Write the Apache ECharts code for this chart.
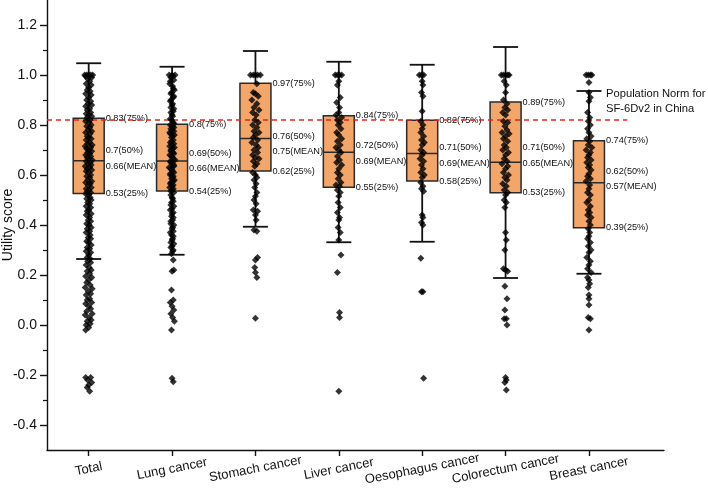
<!DOCTYPE html>
<html><head><meta charset="utf-8">
<script src="https://cdn.jsdelivr.net/npm/echarts@6/dist/echarts.min.js"></script>
<style>html,body{margin:0;padding:0;background:#fff}#c{width:708px;height:490px}</style>
</head><body><div id="c"></div>
<script>
const categories = ['Total','Lung cancer','Stomach cancer','Liver cancer','Oesophagus cancer','Colorectum cancer','Breast cancer'];
const q3 = [0.827, 0.803, 0.967, 0.837, 0.819, 0.892, 0.737];
const median = [0.697, 0.688, 0.756, 0.717, 0.709, 0.709, 0.616];
const mean = [0.657, 0.656, 0.746, 0.691, 0.686, 0.651, 0.569];
const q1 = [0.526, 0.536, 0.616, 0.551, 0.576, 0.529, 0.389];
const whiskerHigh = [1.047, 1.033, 1.096, 1.053, 1.041, 1.112, 0.936];
const whiskerLow = [0.264, 0.281, 0.393, 0.331, 0.333, 0.188, 0.205];
const populationNorm = 0.82;
const normLineEnd = 7.46;
const normLabel = 'Population Norm for\nSF-6Dv2 in China';
const yTicks = [-0.4,-0.2,0,0.2,0.4,0.6,0.8,1.0,1.2];
const yMinorTicks = [-0.3,-0.1,0.1,0.3,0.5,0.7,0.9,1.1];

// points: [horizontal jitter (category units), utility score]
const ptsTotal = [[-0.08,1.0],[-0.04,1.0],[0,1.0],[0.04,1.0],[0.08,1.0],[-0.06,0.995],[0.06,0.99],[-0.02,0.985],[0.02,0.975],[-0.05,0.965],[0.05,0.96],[0,0.95],[-0.03,0.94],[0.03,0.935],[-0.06,0.925],[0.05,0.92],[0,0.91],[-0.04,0.9],[0.04,0.895],[-0.01,0.885],[0.06,0.88],[-0.06,0.875],[0.02,0.865],[-0.03,0.86],[0.04,0.85],[-0.05,0.845],[0.0,0.84],[0.06,0.835],[-0.03,0.83],[0.03,0.82],[-0.06,0.815],[0.01,0.81],[0.05,0.8],[-0.04,0.795],[0.02,0.79],[-0.01,0.78],[0.06,0.775],[-0.06,0.77],[0.03,0.765],[-0.03,0.755],[0.0,0.75],[0.05,0.745],[-0.05,0.74],[0.02,0.73],[-0.02,0.725],[0.07,0.72],[-0.07,0.715],[0.04,0.71],[-0.04,0.705],[0.0,0.7],[0.06,0.695],[-0.02,0.69],[0.02,0.685],[-0.06,0.68],[0.04,0.675],[-0.03,0.67],[0.01,0.665],[0.07,0.66],[-0.05,0.655],[0.03,0.65],[-0.01,0.645],[0.05,0.64],[-0.07,0.635],[0.02,0.63],[-0.03,0.625],[0.06,0.62],[-0.05,0.615],[0.0,0.61],[0.04,0.6],[-0.04,0.595],[0.02,0.59],[-0.02,0.58],[0.06,0.575],[-0.06,0.57],[0.03,0.565],[-0.01,0.56],[0.05,0.55],[-0.05,0.545],[0.01,0.54],[-0.03,0.535],[0.04,0.53],[-0.06,0.525],[0.0,0.52],[0.03,0.51],[-0.04,0.505],[0.05,0.5],[-0.02,0.49],[0.02,0.485],[-0.05,0.475],[0.04,0.47],[0.0,0.46],[-0.03,0.455],[0.05,0.445],[-0.05,0.44],[0.02,0.43],[-0.01,0.42],[0.04,0.415],[-0.04,0.405],[0.01,0.4],[0.05,0.39],[-0.03,0.385],[0.02,0.375],[-0.05,0.37],[0.03,0.36],[-0.01,0.35],[0.04,0.345],[-0.04,0.335],[0.0,0.33],[0.05,0.32],[-0.03,0.31],[0.02,0.305],[-0.05,0.295],[0.04,0.29],[0.0,0.28],[-0.03,0.27],[0.03,0.265],[-0.02,0.255],[0.04,0.25],[-0.05,0.24],[0.01,0.23],[0.05,0.22],[-0.03,0.215],[0.02,0.205],[-0.06,0.195],[0.06,0.19],[0.0,0.18],[-0.04,0.17],[0.03,0.16],[-0.07,0.15],[0.07,0.145],[-0.01,0.135],[0.04,0.125],[-0.05,0.12],[0.02,0.105],[-0.03,0.1],[0.06,0.09],[-0.06,0.085],[0.0,0.075],[0.04,0.065],[-0.04,0.055],[0.07,0.045],[-0.07,0.04],[0.01,0.03],[0.05,0.02],[-0.03,0.015],[0.03,0.005],[-0.05,0.0],[0.0,-0.01],[-0.06,-0.02],[-0.06,-0.21],[0.04,-0.21],[-0.02,-0.22],[0.06,-0.23],[0.0,-0.24],[-0.03,-0.25],[0.02,-0.265]];
const ptsLung = [[-0.05,1.0],[0,1.0],[0.05,1.0],[-0.02,0.99],[0.03,0.98],[-0.04,0.965],[0.01,0.955],[0.04,0.94],[-0.02,0.925],[0.02,0.91],[-0.03,0.895],[0.0,0.88],[0.03,0.865],[-0.02,0.85],[0.01,0.835],[-0.01,0.82],[0.02,0.81],[-0.03,0.8],[0.03,0.79],[0.0,0.78],[-0.04,0.77],[0.04,0.76],[-0.01,0.75],[0.02,0.74],[-0.03,0.73],[0.0,0.72],[0.04,0.71],[-0.02,0.7],[0.02,0.69],[-0.04,0.68],[0.01,0.67],[0.05,0.66],[-0.02,0.65],[0.03,0.64],[-0.05,0.63],[0.0,0.62],[0.03,0.61],[-0.03,0.6],[0.01,0.59],[0.04,0.58],[-0.02,0.57],[0.02,0.56],[-0.04,0.55],[0.0,0.54],[0.03,0.53],[-0.02,0.52],[0.01,0.505],[-0.01,0.49],[0.03,0.475],[-0.03,0.46],[0.0,0.445],[0.02,0.43],[-0.02,0.415],[0.03,0.4],[0.0,0.385],[-0.03,0.37],[0.02,0.355],[0.0,0.34],[0.03,0.325],[-0.02,0.31],[0.01,0.295],[-0.01,0.285],
  [0.01,0.995],[-0.03,0.975],[0.02,0.945],[-0.01,0.93],[0.03,0.915],[-0.02,0.9],[0.01,0.885],[-0.02,0.87],[0.02,0.855],[0.0,0.84],[-0.03,0.825],[0.03,0.805],[0.01,0.795],[-0.02,0.785],[0.03,0.775],[-0.03,0.765],[0.01,0.755],[-0.01,0.735],[0.03,0.725],[-0.04,0.715],[0.01,0.705],[-0.02,0.695],[0.03,0.685],[-0.01,0.675],[0.02,0.665],[-0.03,0.655],[0.0,0.645],[0.03,0.635],[-0.02,0.625],[0.01,0.615],[-0.03,0.605],[0.02,0.595],[-0.01,0.585],[0.02,0.575],[-0.03,0.565],[0.0,0.555],[0.02,0.545],[-0.02,0.535],[0.0,0.51],[0.02,0.495],[-0.02,0.48],[0.0,0.465],[0.02,0.45],[-0.01,0.435],[0.01,0.42],[-0.02,0.405],[0.01,0.39],[0.02,0.375],[-0.01,0.36],[0.01,0.345],[-0.02,0.33],[0.0,0.315],[0.02,0.3],
  [0.02,0.26],[0.03,0.22],[0.0,0.215],[-0.01,0.14],[0.02,0.1],[-0.03,0.09],[0.0,0.075],[0.03,0.06],[-0.02,0.045],[0.01,0.03],[0.04,0.015],[-0.01,-0.02],[0.0,-0.213],[0.02,-0.227]];
const ptsStomach = [[-0.07,1.0],[-0.03,1.0],[0.0,1.0],[0.03,1.0],[0.07,1.0],[0.02,0.965],[-0.03,0.93],[0.0,0.925],[0.04,0.915],[-0.05,0.9],[0.02,0.885],[-0.02,0.87],[0.05,0.86],[-0.04,0.85],[0.01,0.84],[-0.01,0.82],[0.04,0.81],[-0.04,0.8],[0.02,0.79],[-0.02,0.775],[0.05,0.77],[0.0,0.76],[-0.03,0.75],[0.03,0.74],[-0.05,0.73],[0.01,0.72],[0.04,0.71],[-0.02,0.7],[0.03,0.69],[-0.04,0.68],[0.0,0.67],[0.05,0.665],[-0.03,0.655],[0.02,0.645],[-0.01,0.635],[-0.04,0.61],[0.0,0.6],[0.02,0.59],[-0.02,0.58],[0.01,0.565],[-0.01,0.55],[0.02,0.53],[0.0,0.515],[-0.02,0.5],[0.01,0.485],[-0.03,0.46],[0.03,0.455],[0.0,0.44],[0.01,0.42],[-0.02,0.38],[0.02,0.375],[0.03,0.27],[0.0,0.26],[-0.01,0.23],[0.0,0.21],[0.02,0.19],[0.0,0.027]];
const ptsLiver = [[-0.05,1.0],[-0.02,1.0],[0.01,1.0],[0.04,1.0],[0.0,0.975],[-0.02,0.96],[0.02,0.91],[-0.03,0.89],[0.01,0.87],[0.0,0.85],[-0.04,0.84],[0.04,0.83],[-0.02,0.82],[0.02,0.81],[-0.01,0.8],[0.03,0.785],[-0.03,0.77],[0.0,0.76],[0.04,0.745],[-0.02,0.735],[0.02,0.72],[-0.04,0.71],[0.0,0.7],[0.03,0.69],[-0.02,0.675],[0.01,0.66],[-0.03,0.65],[0.04,0.64],[0.0,0.625],[-0.02,0.61],[0.02,0.6],[-0.01,0.585],[0.03,0.57],[-0.04,0.56],[0.01,0.555],[-0.02,0.54],[0.02,0.53],[0.0,0.515],[-0.01,0.49],[0.02,0.47],[-0.02,0.45],[0.01,0.43],[0.0,0.42],[-0.01,0.39],[0.02,0.37],[0.0,0.34],[0.03,0.28],[-0.02,0.21],[0.01,0.05],[0.01,0.03],[0.0,-0.265]];
const ptsOesophagus = [[-0.04,1.0],[-0.01,1.0],[0.02,1.0],[0.0,0.975],[0.01,0.96],[-0.01,0.93],[0.01,0.915],[0.0,0.855],[-0.02,0.815],[0.01,0.8],[0.0,0.785],[-0.02,0.77],[0.02,0.755],[-0.01,0.74],[0.03,0.73],[0.0,0.72],[-0.02,0.7],[0.02,0.69],[0.0,0.68],[-0.03,0.665],[0.02,0.655],[-0.01,0.64],[0.01,0.625],[-0.02,0.61],[0.03,0.6],[0.0,0.59],[-0.02,0.57],[0.01,0.555],[-0.01,0.545],[0.02,0.535],[0.0,0.44],[0.01,0.43],[-0.01,0.41],[0.01,0.4],[-0.02,0.267],[-0.01,0.133],[0.01,0.133],[0.02,-0.213]];
const ptsColorectum = [[-0.06,1.0],[-0.03,1.0],[0.0,1.0],[0.03,1.0],[0.05,1.0],[-0.02,0.975],[0.01,0.96],[0.0,0.93],[-0.03,0.9],[0.02,0.885],[-0.01,0.87],[0.03,0.86],[-0.04,0.85],[0.0,0.84],[-0.03,0.815],[0.03,0.81],[-0.01,0.795],[0.02,0.78],[-0.05,0.77],[0.05,0.765],[0.0,0.755],[-0.03,0.745],[0.03,0.735],[-0.02,0.72],[0.01,0.71],[-0.04,0.7],[0.04,0.69],[0.0,0.68],[-0.02,0.665],[0.02,0.655],[-0.05,0.645],[0.03,0.635],[0.0,0.625],[-0.03,0.61],[0.04,0.6],[-0.01,0.59],[0.02,0.58],[-0.04,0.565],[0.01,0.555],[-0.02,0.54],[0.03,0.53],[0.0,0.52],[-0.02,0.5],[0.01,0.49],[-0.01,0.47],[0.0,0.37],[0.01,0.34],[-0.01,0.3],[-0.03,0.225],[0.0,0.22],[0.03,0.215],[-0.01,0.155],[0.02,0.105],[-0.01,0.06],[-0.02,0.025],[0.01,0.025],[0.02,0.0],[0.0,-0.21],[0.01,-0.22],[-0.01,-0.23],[0.01,-0.26]];
const ptsBreast = [[-0.04,1.0],[-0.01,1.0],[0.02,1.0],[0.04,1.0],[0.0,0.97],[0.0,0.93],[0.02,0.91],[0.0,0.895],[-0.02,0.85],[0.01,0.83],[-0.01,0.815],[0.02,0.8],[-0.02,0.785],[0.0,0.77],[0.03,0.755],[-0.03,0.745],[0.01,0.735],[-0.01,0.72],[0.04,0.71],[-0.04,0.7],[0.02,0.69],[0.0,0.68],[-0.02,0.67],[0.03,0.66],[-0.03,0.65],[0.01,0.64],[-0.01,0.63],[0.03,0.62],[0.0,0.605],[-0.02,0.595],[0.02,0.585],[-0.04,0.575],[0.01,0.56],[0.0,0.545],[-0.02,0.53],[0.02,0.52],[0.0,0.5],[-0.03,0.49],[0.02,0.475],[-0.01,0.46],[0.01,0.45],[-0.02,0.44],[0.03,0.43],[0.0,0.415],[0.02,0.4],[-0.01,0.385],[0.01,0.37],[0.0,0.355],[-0.02,0.345],[0.02,0.33],[-0.01,0.315],[0.03,0.3],[0.0,0.29],[-0.03,0.27],[0.02,0.255],[0.0,0.24],[-0.02,0.225],[0.03,0.21],[-0.02,0.19],[0.0,0.18],[0.01,0.165],[-0.01,0.15],[0.0,0.12],[0.0,0.105],[0.0,0.08],[-0.01,0.03],[0.02,0.025],[0.0,-0.02]];
const groupPoints = [ptsTotal, ptsLung, ptsStomach, ptsLiver, ptsOesophagus, ptsColorectum, ptsBreast];

const FONT = '"Liberation Sans", Arial, sans-serif';
const fmt = v => String(+v.toFixed(2));
const jitterScale = [0.6, 0.7, 0.85, 0.85, 0.85, 0.85, 0.85];

const boxData = categories.map((c, i) => [i + 1, q1[i], q3[i], mean[i], whiskerLow[i], whiskerHigh[i], median[i]]);
const scatterData = [];
groupPoints.forEach((pts, i) => pts.forEach(p => scatterData.push([i + 1 + p[0] * jitterScale[i], p[1]])));

function renderBox(params, api) {
  const x = api.value(0);
  const cx = api.coord([x, 0])[0];
  const Y = v => api.coord([x, v])[1];
  const yq1 = Y(api.value(1)), yq3 = Y(api.value(2)), ym = Y(api.value(3));
  const ylo = Y(api.value(4)), yhi = Y(api.value(5)), ymed = Y(api.value(6));
  const bw = 31, cw = 25, ink = '#111';
  const lx = cx + bw / 2 + 1.5;
  const txt = (t, y) => ({type: 'text', z2: 10, style: {text: t, x: lx, y: y, fill: '#111', fontSize: 9.2, fontFamily: FONT, align: 'left', verticalAlign: 'middle'}});
  return {type: 'group', children: [
    {type: 'line', shape: {x1: cx, y1: yhi, x2: cx, y2: yq3}, style: {stroke: ink, lineWidth: 1.8}},
    {type: 'line', shape: {x1: cx, y1: yq1, x2: cx, y2: ylo}, style: {stroke: ink, lineWidth: 1.8}},
    {type: 'line', shape: {x1: cx - cw / 2, y1: yhi, x2: cx + cw / 2, y2: yhi}, style: {stroke: ink, lineWidth: 1.8}},
    {type: 'line', shape: {x1: cx - cw / 2, y1: ylo, x2: cx + cw / 2, y2: ylo}, style: {stroke: ink, lineWidth: 1.8}},
    {type: 'rect', shape: {x: cx - bw / 2, y: yq3, width: bw, height: yq1 - yq3}, style: {fill: '#F3A66A', stroke: '#2a2a2a', lineWidth: 1.5}},
    {type: 'line', shape: {x1: cx - bw / 2, y1: ym, x2: cx + bw / 2, y2: ym}, style: {stroke: '#2a2a2a', lineWidth: 1.5}},
    txt(fmt(api.value(2)) + '(75%)', yq3),
    txt(fmt(api.value(6)) + '(50%)', ymed),
    txt(fmt(api.value(3)) + '(MEAN)', ymed + 15.5),
    txt(fmt(api.value(1)) + '(25%)', yq1)
  ]};
}

const chart = echarts.init(document.getElementById('c'), null, {renderer: 'canvas'});
chart.setOption({
  animation: false,
  backgroundColor: '#fff',
  grid: {left: 47, right: 44, top: 0, bottom: 40, containLabel: false, outerBoundsMode: 'none'},
  xAxis: {
    type: 'value', min: 0.5, max: 7.9,
    splitLine: {show: false},
    axisLine: {show: true, onZero: false, lineStyle: {color: '#111', width: 1.4}},
    axisTick: {show: true, length: 6, lineStyle: {color: '#111', width: 1.4}, customValues: [1,2,3,4,5,6,7]},
    axisLabel: {show: true, customValues: [1,2,3,4,5,6,7], formatter: v => categories[Math.round(v) - 1] || '',
      rotate: 11, align: 'center', verticalAlign: 'middle', margin: 19, fontSize: 13, fontFamily: FONT, color: '#111'}
  },
  yAxis: [{
    type: 'value', min: -0.5, max: 1.3, position: 'left',
    name: 'Utility score', nameLocation: 'middle', nameGap: 32, nameMoveOverlap: false,
    nameTextStyle: {fontSize: 14, fontFamily: FONT, color: '#111'},
    splitLine: {show: false},
    axisLine: {show: true, onZero: false, lineStyle: {color: '#111', width: 1.4}},
    axisTick: {show: true, length: 7, lineStyle: {color: '#111', width: 1.4}, customValues: yTicks},
    axisLabel: {show: true, customValues: yTicks, formatter: v => v.toFixed(1), margin: 10, fontSize: 14, fontFamily: FONT, color: '#111'}
  }, {
    type: 'value', min: -0.5, max: 1.3, position: 'left', offset: 0,
    splitLine: {show: false},
    axisLine: {show: false, onZero: false},
    axisTick: {show: true, length: 4, lineStyle: {color: '#111', width: 1.2}, customValues: yMinorTicks},
    axisLabel: {show: false}
  }],
  series: [
    {type: 'custom', name: 'box', renderItem: renderBox, data: boxData, z: 2, clip: false,
      encode: {x: 0, y: [1, 2, 3, 4, 5]}},
    {type: 'line', name: 'norm', data: [[0.5, populationNorm], [normLineEnd, populationNorm]], symbol: 'none', z: 3,
      lineStyle: {color: '#e8231f', width: 1.4, type: [5, 4]}, silent: true},
    {type: 'scatter', name: 'points', data: scatterData, symbol: 'diamond', symbolSize: 7, z: 4,
      itemStyle: {color: '#000'}, silent: true}
  ],
  graphic: [{type: 'text', left: 606, top: 86, style: {text: normLabel, fontSize: 11.2, lineHeight: 15.6, fontFamily: FONT, fill: '#111'}}]
});
</script></body></html>
